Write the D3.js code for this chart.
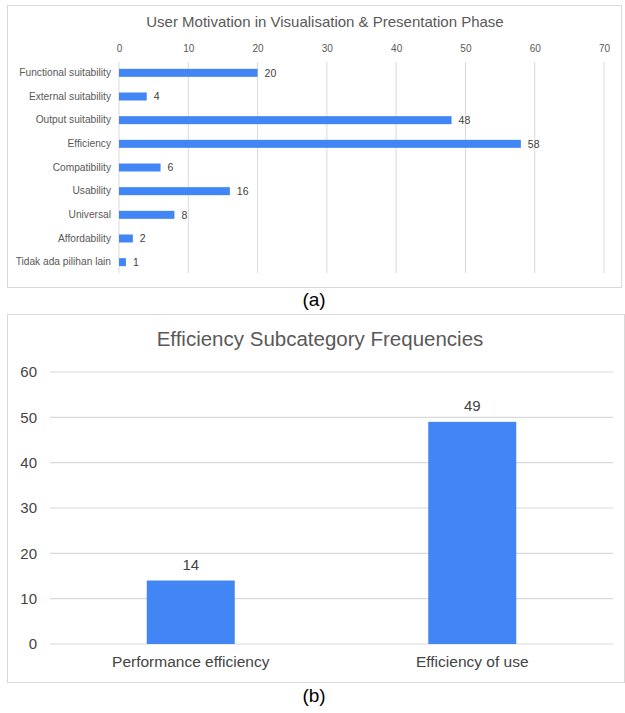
<!DOCTYPE html>
<html>
<head>
<meta charset="utf-8">
<script src="https://cdn.jsdelivr.net/npm/d3@7"></script>
<style>
	body { margin: 0; background: #fff; }
	svg { display: block; font-family: "Liberation Sans", Arial, sans-serif; }
</style>
</head>
<body>
<script>
// Chart (a) data
const motivations = ["Functional suitability", "External suitability", "Output suitability", "Efficiency",
	"Compatibility", "Usability", "Universal", "Affordability", "Tidak ada pilihan lain"];
const motivationCounts = [20, 4, 48, 58, 6, 16, 8, 2, 1];
const motivationTicks = [0, 10, 20, 30, 40, 50, 60, 70];

// Chart (b) data
const subcategories = ["Performance efficiency", "Efficiency of use"];
const subcategoryCounts = [14, 49];
const subcategoryTicks = [0, 10, 20, 30, 40, 50, 60];

const w = 625;
const h = 713;
const blue = "#4285f4";
const grid = "#d9d9d9";
const textGrey = "#595959";

const svg = d3.select("body").append("svg").attr("width", w).attr("height", h);

// ---------- panel (a) ----------
const a = svg.append("g");
a.append("rect")
	.attr("x", 7.5).attr("y", 5.5)
	.attr("width", 614).attr("height", 282)
	.attr("fill", "#fff").attr("stroke", grid);

a.append("text")
	.attr("x", 325).attr("y", 27)
	.attr("text-anchor", "middle")
	.attr("font-size", 15)
	.attr("fill", textGrey)
	.text("User Motivation  in Visualisation & Presentation Phase");

const xA = d3.scaleLinear().domain([0, 70]).range([119, 604]);
const yA = d3.scaleBand().domain(motivations).range([61, 274]);

// vertical gridlines
a.selectAll("line.grid")
	.data(motivationTicks)
	.enter()
	.append("line")
	.attr("class", "grid")
	.attr("x1", (d) => xA(d)).attr("x2", (d) => xA(d))
	.attr("y1", 62).attr("y2", 273)
	.attr("stroke", grid);

// top axis (labels only)
const axisA = a.append("g")
	.attr("transform", "translate(0, 52)")
	.call(d3.axisTop(xA).tickValues(motivationTicks).tickSize(0).tickPadding(0));
axisA.select(".domain").remove();
axisA.selectAll("text").attr("font-size", 10).attr("fill", textGrey).attr("font-family", null);

// left axis (category labels)
const axisAL = a.append("g")
	.attr("transform", "translate(111, 0)")
	.call(d3.axisLeft(yA).tickSize(0).tickPadding(0));
axisAL.select(".domain").remove();
axisAL.selectAll("text").attr("font-size", 10.2).attr("fill", textGrey).attr("font-family", null);

const rowsA = motivations.map((m, i) => ({ name: m, value: motivationCounts[i] }));

a.selectAll("rect.bar")
	.data(rowsA)
	.enter()
	.append("rect")
	.attr("class", "bar")
	.attr("x", xA(0))
	.attr("y", (d) => yA(d.name) + yA.bandwidth() / 2 - 4)
	.attr("width", (d) => xA(d.value) - xA(0))
	.attr("height", 8)
	.attr("fill", blue);

a.selectAll("text.val")
	.data(rowsA)
	.enter()
	.append("text")
	.attr("class", "val")
	.attr("x", (d) => xA(d.value) + 7)
	.attr("y", (d) => yA(d.name) + yA.bandwidth() / 2)
	.attr("dy", "0.35em")
	.attr("font-size", 10.5)
	.attr("fill", "#404040")
	.text((d) => d.value);

svg.append("text")
	.attr("x", 314).attr("y", 306)
	.attr("text-anchor", "middle")
	.attr("font-size", 19)
	.attr("fill", "#000")
	.text("(a)");

// ---------- panel (b) ----------
const b = svg.append("g");
b.append("rect")
	.attr("x", 7.5).attr("y", 314.5)
	.attr("width", 617).attr("height", 368)
	.attr("fill", "#fff").attr("stroke", grid);

b.append("text")
	.attr("x", 320).attr("y", 346)
	.attr("text-anchor", "middle")
	.attr("font-size", 20.5)
	.attr("fill", textGrey)
	.text("Efficiency Subcategory Frequencies");

const yB = d3.scaleLinear().domain([0, 60]).range([644, 372]);
const xB = d3.scaleBand().domain(subcategories).range([50, 613]);

b.selectAll("line.grid")
	.data(subcategoryTicks)
	.enter()
	.append("line")
	.attr("class", "grid")
	.attr("x1", 50).attr("x2", 613)
	.attr("y1", (d) => yB(d)).attr("y2", (d) => yB(d))
	.attr("stroke", grid)
	.attr("stroke-width", 1.2);

const axisBL = b.append("g")
	.attr("transform", "translate(37, 0)")
	.call(d3.axisLeft(yB).tickValues(subcategoryTicks).tickSize(0).tickPadding(0));
axisBL.select(".domain").remove();
axisBL.selectAll("text").attr("font-size", 15).attr("fill", "#444").attr("font-family", null);

const axisBB = b.append("g")
	.attr("transform", "translate(0, 656)")
	.call(d3.axisBottom(xB).tickSize(0).tickPadding(0));
axisBB.select(".domain").remove();
axisBB.selectAll("text").attr("font-size", 15.5).attr("fill", "#444").attr("font-family", null);

const rowsB = subcategories.map((s, i) => ({ name: s, value: subcategoryCounts[i] }));
const barW = 88;

b.selectAll("rect.bar")
	.data(rowsB)
	.enter()
	.append("rect")
	.attr("class", "bar")
	.attr("x", (d) => xB(d.name) + xB.bandwidth() / 2 - barW / 2)
	.attr("y", (d) => yB(d.value))
	.attr("width", barW)
	.attr("height", (d) => yB(0) - yB(d.value))
	.attr("fill", blue);

b.selectAll("text.val")
	.data(rowsB)
	.enter()
	.append("text")
	.attr("class", "val")
	.attr("x", (d) => xB(d.name) + xB.bandwidth() / 2)
	.attr("y", (d) => yB(d.value) - 11)
	.attr("text-anchor", "middle")
	.attr("font-size", 15)
	.attr("fill", "#444")
	.text((d) => d.value);

svg.append("text")
	.attr("x", 314).attr("y", 702)
	.attr("text-anchor", "middle")
	.attr("font-size", 19)
	.attr("fill", "#000")
	.text("(b)");
</script>
</body>
</html>
